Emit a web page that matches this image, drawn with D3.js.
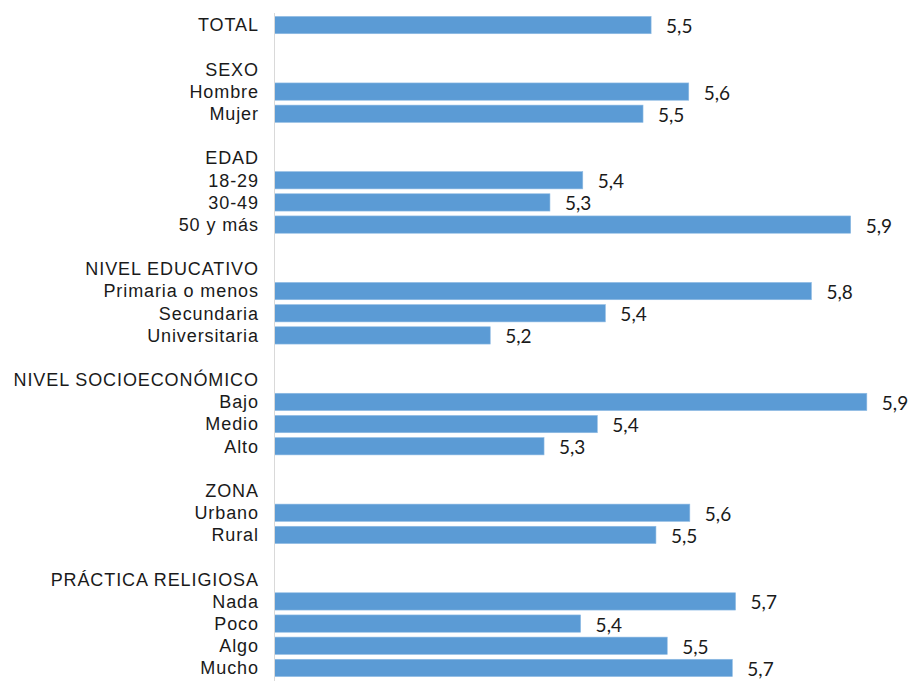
<!DOCTYPE html>
<html>
<head>
<meta charset="utf-8">
<script src="https://cdn.jsdelivr.net/npm/d3@7"></script>
<style>
  html, body { margin: 0; padding: 0; background: #fff; }
  svg { display: block; }
</style>
</head>
<body>
<svg id="chart" width="909" height="681"></svg>
<script>
const categories = ["TOTAL", "", "SEXO", "Hombre", "Mujer", "", "EDAD", "18-29", "30-49", "50 y más", "",
  "NIVEL EDUCATIVO", "Primaria o menos", "Secundaria", "Universitaria", "",
  "NIVEL SOCIOECONÓMICO", "Bajo", "Medio", "Alto", "",
  "ZONA", "Urbano", "Rural", "",
  "PRÁCTICA RELIGIOSA", "Nada", "Poco", "Algo", "Mucho"];
const values = [5.50, null, null, 5.57, 5.485, null, null, 5.373, 5.312, 5.871, null,
  null, 5.798, 5.415, 5.201, null,
  null, 5.901, 5.40, 5.301, null,
  null, 5.572, 5.509, null,
  null, 5.657, 5.369, 5.53, 5.651];
const xDomain = [4.8, 6.0];

const svg = d3.select("#chart");
const x = d3.scaleLinear().domain(xDomain).range([274.5, 274.5 + 1.2 * 538]);
const y = d3.scaleBand().domain(d3.range(categories.length)).range([14, 679])
  .paddingInner(0.22).paddingOuter(0.11);

const rows = categories.map((c, i) => ({ label: c, value: values[i], i }));

// bars
svg.append("g").selectAll("rect")
  .data(rows.filter(d => d.value != null))
  .join("rect")
  .attr("x", x(xDomain[0]))
  .attr("y", d => y(d.i))
  .attr("width", d => x(d.value) - x(xDomain[0]))
  .attr("height", y.bandwidth())
  .attr("fill", "#5b9bd5")
  .attr("stroke", "#8fbbe3")
  .attr("stroke-width", 0.6);

// axis line
const yAxis = d3.axisLeft(y).tickSize(0).tickFormat(() => "");
const ax = svg.append("g").attr("transform", `translate(${x(xDomain[0])},0)`).call(yAxis);
ax.select(".domain").attr("stroke", "#d9d9d9").attr("d", "M0,13V681");

// category labels
svg.append("g").selectAll("text")
  .data(rows.filter(d => d.label !== ""))
  .join("text")
  .attr("x", 258.9)
  .attr("y", d => y(d.i) + y.bandwidth() / 2 + 6.3)
  .attr("text-anchor", "end")
  .attr("font-family", "'Liberation Sans', Arial, sans-serif")
  .attr("font-size", 18)
  .attr("letter-spacing", 0.9)
  .attr("fill", "#1a1a1a")
  .text(d => d.label);

// value labels
svg.append("g").selectAll("text")
  .data(rows.filter(d => d.value != null))
  .join("text")
  .attr("x", d => x(d.value) + 15)
  .attr("y", d => y(d.i) + y.bandwidth() / 2 + 8)
  .attr("font-family", "Lato, 'Open Sans', sans-serif")
  .attr("font-size", 19)
  .attr("fill", "#1a1a1a")
  .text(d => d.value.toFixed(1).replace(".", ","));
</script>
</body>
</html>
